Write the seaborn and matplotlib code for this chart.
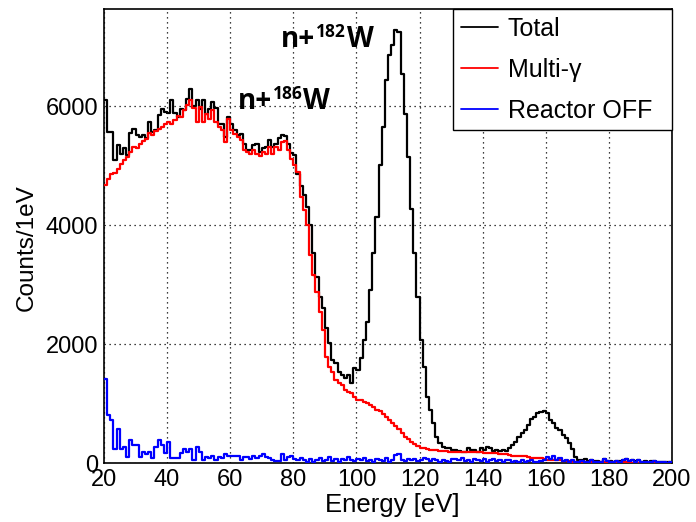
import numpy as np
import pandas as pd
import matplotlib
matplotlib.use("Agg")
import matplotlib.pyplot as plt
from matplotlib.lines import Line2D
from matplotlib.ticker import MultipleLocator
from matplotlib.transforms import offset_copy
import seaborn as sns

# ---------------- data (1 eV bins, lower edges 20 ... 199 eV) ----------------
energy_lo = list(range(20, 200))

total = [
    6096, 5565, 5565, 5100, 5340, 5200, 5290, 5170, 5540, 5620,   # 20-29
    5510, 5480, 5510, 5470, 5730, 5560, 5590, 5850, 5950, 5900,   # 30-39
    5880, 6100, 5880, 5820, 5950, 5930, 6120, 6290, 6000, 6100,   # 40-49
    5950, 6100, 5870, 5950, 6070, 5960, 5700, 5700, 5480, 5820,   # 50-59
    5700, 5600, 5510, 5537, 5370, 5257, 5257, 5341, 5370, 5229,   # 60-69
    5300, 5320, 5437, 5320, 5370, 5470, 5509, 5490, 5370, 5212,   # 70-79
    5173, 4866, 4650, 4502, 4306, 3999, 3524, 3131, 2796, 2601,   # 80-89
    2265, 2014, 1734, 1678, 1537, 1480, 1426, 1482, 1342, 1594,   # 90-99
    1560, 1762, 2069, 2376, 2908, 3524, 4138, 5006, 5648, 6432,   # 100-109
    6851, 7019, 7271, 7243, 6544, 5873, 5145, 4279, 3524, 2796,   # 110-119
    2069, 1621, 1118, 895, 671, 440, 335, 280, 252, 250,          # 120-129
    223, 220, 200, 198, 195, 250, 225, 230, 195, 250,             # 130-139
    215, 270, 265, 210, 220, 210, 230, 210, 250, 307,             # 140-149
    363, 447, 503, 559, 643, 738, 783, 839, 860, 883,             # 150-159
    839, 727, 671, 587, 559, 475, 419, 346, 235, 112,             # 160-169
    60, 55, 75, 45, 60, 40, 45, 30, 70, 45,                       # 170-179
    35, 30, 40, 35, 60, 70, 45, 60, 35, 60,                       # 180-189
    30, 35, 25, 35, 40, 25, 30, 25, 15, 25,                       # 190-199
]

multi_gamma = [
    4670, 4780, 4860, 4880, 4950, 5030, 5090, 5150, 5230, 5310,   # 20-29
    5290, 5370, 5420, 5450, 5540, 5510, 5580, 5620, 5650, 5700,   # 30-39
    5730, 5700, 5760, 5840, 5820, 5930, 6010, 6100, 5960, 5730,   # 40-49
    5980, 5730, 5870, 5790, 5930, 5730, 5650, 5600, 5400, 5790,   # 50-59
    5590, 5530, 5480, 5425, 5257, 5229, 5190, 5257, 5200, 5156,   # 60-69
    5229, 5200, 5313, 5200, 5313, 5260, 5397, 5410, 5257, 5118,   # 70-79
    5006, 4893, 4474, 4250, 3999, 3495, 3160, 2880, 2544, 2237,   # 80-89
    1789, 1621, 1537, 1398, 1342, 1314, 1230, 1200, 1174, 1118,   # 90-99
    1062, 1060, 1034, 1006, 978, 950, 900, 880, 820, 770,         # 100-109
    720, 670, 620, 570, 510, 450, 400, 355, 320, 290,             # 110-119
    265, 252, 240, 225, 220, 215, 205, 200, 200, 198,             # 120-129
    195, 195, 190, 190, 188, 190, 188, 185, 185, 183,             # 130-139
    180, 180, 178, 175, 170, 155, 150, 148, 145, 125,             # 140-149
    122, 120, 118, 115, 112, 90, 88, 85, 84, 80,                  # 150-159
    60, 58, 56, 55, 50, 38, 35, 33, 30, 28,                       # 160-169
    25, 24, 22, 22, 20, 20, 20, 18, 18, 18,                       # 170-179
    16, 16, 15, 15, 15, 14, 14, 13, 13, 12,                       # 180-189
    12, 12, 11, 11, 10, 10, 10, 10, 9, 9,                         # 190-199
]

reactor_off = [
    1415, 810, 727, 235, 575, 235, 280, 112, 391, 307,            # 20-29
    307, 112, 195, 156, 195, 84, 268, 391, 307, 167,              # 30-39
    363, 84, 84, 84, 167, 235, 195, 235, 56, 268,                 # 40-49
    195, 56, 112, 84, 128, 56, 112, 84, 156, 128,                 # 50-59
    128, 128, 128, 56, 100, 100, 72, 120, 84, 120,                # 60-69
    156, 100, 84, 56, 45, 45, 156, 56, 100, 128,                  # 70-79
    80, 60, 90, 60, 30, 70, 30, 50, 90, 40,                       # 80-89
    60, 100, 40, 70, 30, 80, 50, 100, 60, 40,                     # 90-99
    70, 50, 90, 40, 60, 30, 80, 60, 40, 90,                       # 100-109
    30, 60, 140, 150, 50, 40, 70, 60, 80, 40,                     # 110-119
    50, 90, 70, 40, 80, 60, 30, 50, 40, 20,                       # 120-129
    70, 80, 50, 90, 40, 60, 30, 80, 60, 40,                       # 130-139
    70, 30, 60, 80, 40, 60, 30, 50, 60, 30,                       # 140-149
    40, 30, 60, 20, 40, 60, 30, 20, 40, 50,                       # 150-159
    110, 70, 120, 60, 90, 40, 60, 30, 50, 20,                     # 160-169
    30, 40, 20, 30, 60, 20, 30, 20, 70, 40,                       # 170-179
    30, 20, 40, 30, 60, 70, 40, 60, 30, 60,                       # 180-189
    20, 30, 20, 30, 40, 20, 30, 20, 10, 20,                       # 190-199
]

series_names = ["Total", "Multi-\u03b3", "Reactor OFF"]
series_colors = ["#000000", "#ff0000", "#0000ff"]
x_ticks = [20, 40, 60, 80, 100, 120, 140, 160, 180, 200]
y_ticks = [0, 2000, 4000, 6000]
peak_labels = [("186", 62.27, 5957), ("182", 76.08, 6991)]   # isotope, anchor E, anchor counts

# ---------------- style ----------------
sns.set_theme(style="white")
plt.rcParams["font.family"] = ["Liberation Sans", "DejaVu Sans"]
plt.rcParams["text.color"] = "black"
plt.rcParams["axes.labelcolor"] = "black"
plt.rcParams["xtick.color"] = "black"
plt.rcParams["ytick.color"] = "black"

df = pd.DataFrame({
    "center": np.array(energy_lo) + 0.5,
    "total": total,
    "multi": multi_gamma,
    "off": reactor_off,
})

fig = plt.figure(figsize=(6.96, 5.22), dpi=100)
W, H = 696, 522
ax = fig.add_axes([104 / W, 1 - 463.3 / H, 568 / W, 454.3 / H])

for col, color, z in [("total", series_colors[0], 3), ("multi", series_colors[1], 4), ("off", series_colors[2], 5)]:
    sns.histplot(data=df, x="center", weights=col, binwidth=1, binrange=(20, 200),
                 element="step", fill=False, color=color, linewidth=1.6, ax=ax, zorder=z)

ax.set_xlim(20, 200)
ax.set_ylim(0, 7630)
ax.set_xlabel("")
ax.set_ylabel("")

ax.xaxis.set_minor_locator(MultipleLocator(5))
ax.yaxis.set_minor_locator(MultipleLocator(1000))
ax.set_xticks(x_ticks)
ax.set_xticklabels([str(v) for v in x_ticks])
ax.set_yticks(y_ticks)
ax.set_yticklabels([str(v) for v in y_ticks])

ax.tick_params(axis="x", which="major", direction="in", length=10, width=1,
               labelsize=17, pad=4, colors="black")
ax.tick_params(axis="x", which="minor", direction="in", length=5, width=1, colors="black")
ax.tick_params(axis="y", which="major", direction="in", length=16, width=1,
               labelsize=17, pad=4, colors="black")
ax.tick_params(axis="y", which="minor", direction="in", length=8.5, width=1, colors="black")

ax.grid(True, which="major", color="black", linestyle=(0, (1, 3)), linewidth=0.9)
ax.set_axisbelow(True)
for s in ax.spines.values():
    s.set_color("black")
    s.set_linewidth(1.2)

fig.text(27 / W, 1 - 248 / H, "Counts/1eV", rotation=90, ha="center", va="center",
         fontsize=17.5, color="black")
fig.text(392 / W, 1 - 505 / H, "Energy [eV]", ha="center", va="center",
         fontsize=18.5, color="black")

# isotope annotations: "n+" , superscript mass number, "W" chained one after another
ann_font = ["Open Sans", "Liberation Sans", "DejaVu Sans"]
renderer = fig.canvas.get_renderer()
for iso, ex, ey in peak_labels:
    t1 = ax.text(ex, ey, "n+", fontsize=20, fontweight="bold", family=ann_font,
                 color="black", ha="left", va="baseline", zorder=6)
    bb1 = t1.get_window_extent(renderer)
    anchor_px = ax.transData.transform((ex, ey))
    dx1 = bb1.x1 - anchor_px[0] + 1
    tr_sup = offset_copy(ax.transData, fig=fig, x=dx1, y=10, units="dots")
    t2 = ax.text(ex, ey, iso, transform=tr_sup, fontsize=12.5, fontweight="bold", family=ann_font,
                 color="black", ha="left", va="baseline", zorder=6)
    bb2 = t2.get_window_extent(renderer)
    dx2 = bb2.x1 - anchor_px[0] + 1
    tr_w = offset_copy(ax.transData, fig=fig, x=dx2, y=0, units="dots")
    ax.text(ex, ey, "W", transform=tr_w, fontsize=20, fontweight="bold", family=ann_font,
            color="black", ha="left", va="baseline", zorder=6)

handles = [Line2D([], [], color=c, lw=1.3) for c in series_colors]
x0 = (453 - 104) / 568
leg = ax.legend(handles, series_names, loc="upper left", bbox_to_anchor=(x0, 0.0, 1.0 - x0, 1.0),
                mode="expand", borderaxespad=0, frameon=True, fancybox=False, edgecolor="black",
                framealpha=1, fontsize=18, handlelength=1.5, handletextpad=0.4,
                labelspacing=0.68, borderpad=0.3, labelcolor="black")
leg.get_frame().set_linewidth(1.0)
leg.set_zorder(10)

fig.savefig("out.png", dpi=100, facecolor="white")
